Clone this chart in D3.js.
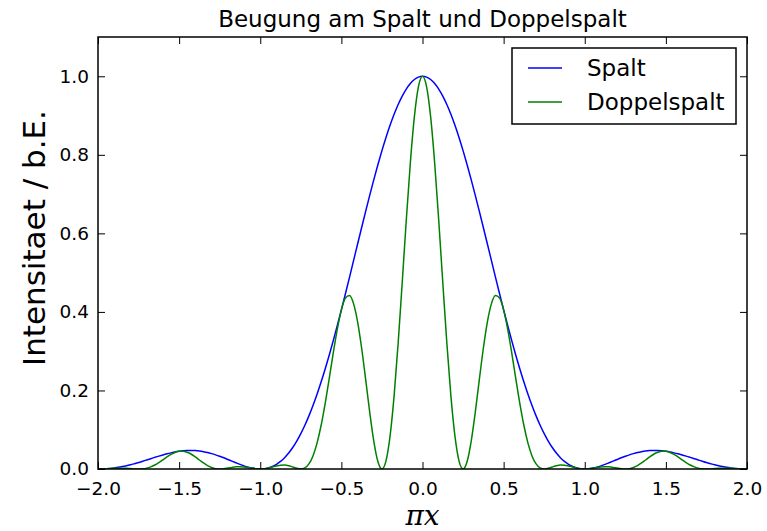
<!DOCTYPE html>
<html>
<head>
<meta charset="utf-8">
<script src="https://cdn.jsdelivr.net/npm/d3@7"></script>
<style>
  html, body { margin: 0; padding: 0; background: #fff; }
  svg { display: block; }
  text { font-family: "DejaVu Sans", sans-serif; }
</style>
</head>
<body>
<svg id="chart" width="767" height="531"></svg>
<script>
// Sample positions along the x axis (step 0.025 from -2 to 2)
const xValues = d3.range(-80, 81).map(k => k / 40);

// Intensity of the single slit
const spalt = [
  0.0000, 0.0002, 0.0007, 0.0015, 0.0027, 0.0042, 0.0061, 0.0083, 0.0108, 0.0136,
  0.0165, 0.0197, 0.0230, 0.0263, 0.0296, 0.0328, 0.0358, 0.0386, 0.0411, 0.0433,
  0.0450, 0.0463, 0.0470, 0.0472, 0.0468, 0.0457, 0.0441, 0.0420, 0.0392, 0.0360,
  0.0324, 0.0285, 0.0243, 0.0200, 0.0158, 0.0117, 0.0080, 0.0048, 0.0023, 0.0006,
  0.0000, 0.0007, 0.0028, 0.0065, 0.0119, 0.0194, 0.0289, 0.0406, 0.0547, 0.0712,
  0.0901, 0.1115, 0.1353, 0.1617, 0.1904, 0.2214, 0.2546, 0.2898, 0.3268, 0.3653,
  0.4053, 0.4463, 0.4881, 0.5304, 0.5728, 0.6150, 0.6566, 0.6974, 0.7368, 0.7747,
  0.8106, 0.8442, 0.8751, 0.9032, 0.9281, 0.9496, 0.9675, 0.9816, 0.9918, 0.9979,
  1.0000,
  0.9979, 0.9918, 0.9816, 0.9675, 0.9496, 0.9281, 0.9032, 0.8751, 0.8442, 0.8106,
  0.7747, 0.7368, 0.6974, 0.6566, 0.6150, 0.5728, 0.5304, 0.4881, 0.4463, 0.4053,
  0.3653, 0.3268, 0.2898, 0.2546, 0.2214, 0.1904, 0.1617, 0.1353, 0.1115, 0.0901,
  0.0712, 0.0547, 0.0406, 0.0289, 0.0194, 0.0119, 0.0065, 0.0028, 0.0007, 0.0000,
  0.0006, 0.0023, 0.0048, 0.0080, 0.0117, 0.0158, 0.0200, 0.0243, 0.0285, 0.0324,
  0.0360, 0.0392, 0.0420, 0.0441, 0.0457, 0.0468, 0.0472, 0.0470, 0.0463, 0.0450,
  0.0433, 0.0411, 0.0386, 0.0358, 0.0328, 0.0296, 0.0263, 0.0230, 0.0197, 0.0165,
  0.0136, 0.0108, 0.0083, 0.0061, 0.0042, 0.0027, 0.0015, 0.0007, 0.0002, 0.0000
];

// Intensity of the double slit
const doppelspalt = [
  0.0000, 0.0002, 0.0006, 0.0012, 0.0018, 0.0021, 0.0021, 0.0017, 0.0010, 0.0003,
  0.0000, 0.0005, 0.0022, 0.0054, 0.0102, 0.0164, 0.0234, 0.0307, 0.0372, 0.0422,
  0.0450, 0.0452, 0.0425, 0.0375, 0.0306, 0.0229, 0.0153, 0.0087, 0.0038, 0.0009,
  0.0000, 0.0007, 0.0023, 0.0041, 0.0055, 0.0059, 0.0052, 0.0038, 0.0020, 0.0006,
  0.0000, 0.0006, 0.0025, 0.0051, 0.0078, 0.0097, 0.0100, 0.0084, 0.0052, 0.0017,
  0.0000, 0.0027, 0.0129, 0.0333, 0.0658, 0.1107, 0.1666, 0.2300, 0.2956, 0.3564,
  0.4053, 0.4354, 0.4415, 0.4211, 0.3749, 0.3075, 0.2269, 0.1437, 0.0704, 0.0190,
  0.0000, 0.0207, 0.0836, 0.1862, 0.3207, 0.4748, 0.6333, 0.7793, 0.8971, 0.9735,
  1.0000,
  0.9735, 0.8971, 0.7793, 0.6333, 0.4748, 0.3207, 0.1862, 0.0836, 0.0207, 0.0000,
  0.0190, 0.0704, 0.1437, 0.2269, 0.3075, 0.3749, 0.4211, 0.4415, 0.4354, 0.4053,
  0.3564, 0.2956, 0.2300, 0.1666, 0.1107, 0.0658, 0.0333, 0.0129, 0.0027, 0.0000,
  0.0017, 0.0052, 0.0084, 0.0100, 0.0097, 0.0078, 0.0051, 0.0025, 0.0006, 0.0000,
  0.0006, 0.0020, 0.0038, 0.0052, 0.0059, 0.0055, 0.0041, 0.0023, 0.0007, 0.0000,
  0.0009, 0.0038, 0.0087, 0.0153, 0.0229, 0.0306, 0.0375, 0.0425, 0.0452, 0.0450,
  0.0422, 0.0372, 0.0307, 0.0234, 0.0164, 0.0102, 0.0054, 0.0022, 0.0005, 0.0000,
  0.0003, 0.0010, 0.0017, 0.0021, 0.0021, 0.0018, 0.0012, 0.0006, 0.0002, 0.0000
];

const xTicks = [-2.0, -1.5, -1.0, -0.5, 0.0, 0.5, 1.0, 1.5, 2.0];
const yTicks = [0.0, 0.2, 0.4, 0.6, 0.8, 1.0];
const seriesNames = ["Spalt", "Doppelspalt"];
const seriesColors = ["#0000ff", "#008000"];

const svg = d3.select("#chart");
const margin = { left: 98, right: 20, top: 37, bottom: 62 };
const W = 767, H = 531;
const plotW = W - margin.left - margin.right;
const plotH = H - margin.top - margin.bottom;

const x = d3.scaleLinear().domain([-2, 2]).range([margin.left, margin.left + plotW]);
const y = d3.scaleLinear().domain([0, 1.1]).range([margin.top + plotH, margin.top]);

const fmt = v => d3.format(".1f")(v).replace("-", "\u2212");

svg.append("defs").append("clipPath").attr("id", "plotclip")
  .append("rect")
  .attr("x", margin.left).attr("y", margin.top)
  .attr("width", plotW).attr("height", plotH);

// Curves
const series = [spalt, doppelspalt];
const line = d3.line()
  .x(d => x(d[0]))
  .y(d => y(d[1]))
  .curve(d3.curveMonotoneX);

series.forEach((vals, i) => {
  svg.append("path")
    .datum(xValues.map((xv, j) => [xv, vals[j]]))
    .attr("clip-path", "url(#plotclip)")
    .attr("fill", "none")
    .attr("stroke", seriesColors[i])
    .attr("stroke-width", 1.5)
    .attr("d", line);
});

// Axes with inward ticks on all four sides
const tickLen = 7;
const bottomAxis = d3.axisBottom(x).tickValues(xTicks).tickFormat(fmt).tickSizeInner(-tickLen).tickSizeOuter(0).tickPadding(13);
const topAxis = d3.axisTop(x).tickValues(xTicks).tickFormat("").tickSizeInner(-tickLen).tickSizeOuter(0);
const leftAxis = d3.axisLeft(y).tickValues(yTicks).tickFormat(fmt).tickSizeInner(-tickLen).tickSizeOuter(0).tickPadding(9);
const rightAxis = d3.axisRight(y).tickValues(yTicks).tickFormat("").tickSizeInner(-tickLen).tickSizeOuter(0);

function styleAxis(g) {
  g.select(".domain").remove();
  g.selectAll(".tick line").attr("stroke", "#000").attr("stroke-width", 1);
  g.selectAll(".tick text").attr("fill", "#000").style("font-family", "'DejaVu Sans', sans-serif").style("font-size", "18.5px");
}

svg.append("g").attr("transform", `translate(0,${margin.top + plotH})`).call(bottomAxis).call(styleAxis);
svg.append("g").attr("transform", `translate(0,${margin.top})`).call(topAxis).call(styleAxis);
svg.append("g").attr("transform", `translate(${margin.left},0)`).call(leftAxis).call(styleAxis);
svg.append("g").attr("transform", `translate(${margin.left + plotW},0)`).call(rightAxis).call(styleAxis);

// Frame
svg.append("rect")
  .attr("x", margin.left).attr("y", margin.top)
  .attr("width", plotW).attr("height", plotH)
  .attr("fill", "none").attr("stroke", "#000").attr("stroke-width", 1.5);

// Title
svg.append("text")
  .attr("x", margin.left + plotW / 2).attr("y", 27)
  .attr("text-anchor", "middle")
  .style("font-size", "23px")
  .text("Beugung am Spalt und Doppelspalt");

// Axis labels
svg.append("text")
  .attr("x", margin.left + plotW / 2).attr("y", 525)
  .attr("text-anchor", "middle")
  .style("font-family", "'DejaVu Serif', serif")
  .style("font-style", "italic")
  .style("font-size", "28px")
  .text("\u03c0x");

svg.append("text")
  .attr("transform", `translate(45,${margin.top + plotH / 2 - 15}) rotate(-90)`)
  .attr("text-anchor", "middle")
  .style("font-size", "31px")
  .text("Intensitaet / b.E.");

// Legend
const lg = svg.append("g").attr("transform", "translate(512,48)");
lg.append("rect")
  .attr("width", 224).attr("height", 76)
  .attr("fill", "#fff").attr("stroke", "#000").attr("stroke-width", 1.5);
seriesNames.forEach((name, i) => {
  const cy = 20 + i * 34;
  lg.append("line")
    .attr("x1", 16).attr("x2", 50).attr("y1", cy).attr("y2", cy)
    .attr("stroke", seriesColors[i]).attr("stroke-width", 1.5);
  lg.append("text")
    .attr("x", 75).attr("y", cy + 8)
    .style("font-size", "23px")
    .text(name);
});
</script>
</body>
</html>
